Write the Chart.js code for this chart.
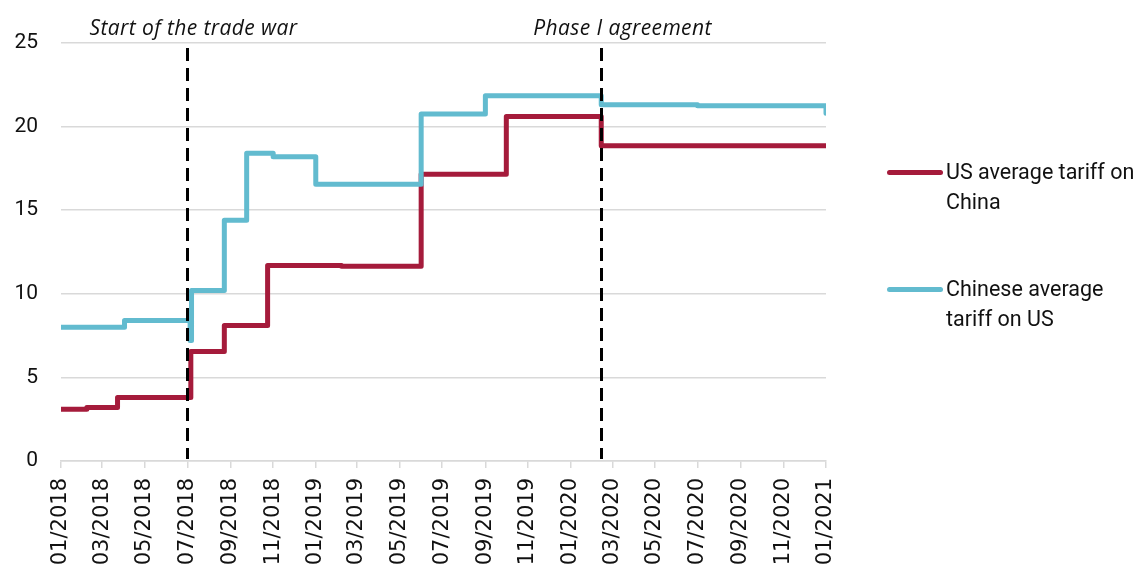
<!DOCTYPE html>
<html>
<head>
<meta charset="utf-8">
<script src="https://cdn.jsdelivr.net/npm/chart.js@4"></script>
<style>
    body { margin: 0; overflow: hidden; background: #fff; }
    #wrap { position: relative; width: 1143px; height: 565px; overflow: hidden; }
    canvas { position: absolute; left: 0; top: 0; }
    .legend-item { position: absolute; left: 887px; font-family: Roboto, sans-serif; font-size: 21.5px; line-height: 30px; color: #111; }
    .legend-item .swatch { position: absolute; left: 0; top: 13px; width: 56px; height: 5px; border-radius: 3px; }
    .legend-item .text { margin-left: 59px; }
</style>
</head>
<body>
<div id="wrap">
    <canvas id="tariffChart" width="1143" height="620"></canvas>
    <div class="legend-item" style="top:157px;"><div class="swatch" style="background:#A51B3B;"></div><div class="text">US average tariff on<br>China</div></div>
    <div class="legend-item" style="top:274px;"><div class="swatch" style="background:#62BBCF;"></div><div class="text">Chinese average<br>tariff on US</div></div>
</div>
<script>
// Tick labels on the time axis (every two months)
const tickLabels = ['01/2018', '03/2018', '05/2018', '07/2018', '09/2018', '11/2018',
    '01/2019', '03/2019', '05/2019', '07/2019', '09/2019', '11/2019',
    '01/2020', '03/2020', '05/2020', '07/2020', '09/2020', '11/2020', '01/2021'];
const yTicks = [0, 5, 10, 15, 20, 25];

// US average tariff on China (value holds from each date on)
const usDates = ['2018-01-01', '2018-02-07', '2018-03-23', '2018-07-06', '2018-08-23', '2018-10-24',
    '2019-02-07', '2019-06-01', '2019-10-01', '2020-02-14', '2021-01-01'];
const usValues = [3.1, 3.2, 3.8, 6.55, 8.1, 11.7, 11.65, 17.15, 20.6, 18.85, 18.85];

// Chinese average tariff on US
const cnDates = ['2018-01-01', '2018-04-02', '2018-07-05', '2018-07-07', '2018-08-23', '2018-09-24',
    '2018-11-01', '2019-01-01', '2019-06-01', '2019-09-01', '2020-02-14', '2020-07-01', '2021-01-01'];
const cnValues = [8.0, 8.4, 7.2, 10.2, 14.4, 18.4, 18.2, 16.55, 20.75, 21.85, 21.3, 21.25, 20.8];

// Event markers
const eventDates = ['2018-07-01', '2020-02-13'];
const eventLabels = ['Start of the trade war', 'Phase I agreement'];
const eventLabelShift = [6, 21];

const startDate = Date.UTC(2018, 0, 1);
function dayOf(iso) {
    const p = iso.split('-').map(Number);
    return (Date.UTC(p[0], p[1] - 1, p[2]) - startDate) / 86400000;
}
function dayOfTick(label) {
    const p = label.split('/').map(Number);
    return (Date.UTC(p[1], p[0] - 1, 1) - startDate) / 86400000;
}
const tickDays = tickLabels.map(dayOfTick);

function toPoints(dates, values) {
    return dates.map((d, i) => ({ x: dayOf(d), y: values[i] }));
}

// Dashed event lines and their italic labels
const eventPlugin = {
    id: 'events',
    afterDatasetsDraw(chart) {
        const ctx = chart.ctx;
        const xs = chart.scales.x;
        const area = chart.chartArea;
        ctx.save();
        eventDates.forEach((d, i) => {
            const px = Math.round(xs.getPixelForValue(dayOf(d))) + 0.5;
            ctx.beginPath();
            ctx.setLineDash([13, 7]);
            ctx.lineWidth = 3;
            ctx.strokeStyle = '#000';
            ctx.moveTo(px, area.top + 5);
            ctx.lineTo(px, area.bottom - 2);
            ctx.stroke();
            ctx.setLineDash([]);
            ctx.fillStyle = '#111';
            ctx.font = 'italic 21px "Open Sans", sans-serif';
            ctx.letterSpacing = '0.4px';
            ctx.textAlign = 'center';
            ctx.textBaseline = 'alphabetic';
            ctx.fillText(eventLabels[i], px + eventLabelShift[i], 35);
        });
        ctx.restore();
    }
};

const config = {
    type: 'line',
    data: {
        datasets: [{
            label: 'Chinese average tariff on US',
            data: toPoints(cnDates, cnValues),
            borderColor: '#62BBCF',
            borderWidth: 5,
            stepped: true,
            pointRadius: 0,
            borderJoinStyle: 'round',
            borderCapStyle: 'round'
        }, {
            label: 'US average tariff on China',
            data: toPoints(usDates, usValues),
            borderColor: '#A51B3B',
            borderWidth: 5,
            stepped: true,
            pointRadius: 0,
            borderJoinStyle: 'round',
            borderCapStyle: 'round'
        }]
    },
    options: {
        responsive: false,
        animation: false,
        layout: { padding: { top: 43, right: 317, left: 0, bottom: 0 } },
        plugins: {
            legend: { display: false },
            tooltip: { enabled: false }
        },
        scales: {
            x: {
                type: 'linear',
                min: tickDays[0],
                max: tickDays[tickDays.length - 1],
                afterBuildTicks: (scale) => {
                    scale.ticks = tickDays.map(v => ({ value: v }));
                },
                afterFit: (scale) => { scale.height = 159; },
                grid: {
                    drawOnChartArea: false,
                    drawTicks: true,
                    tickLength: 7,
                    color: '#d9d9d9',
                    lineWidth: 1.5
                },
                border: { display: true, color: '#d9d9d9', width: 1.5 },
                ticks: {
                    autoSkip: false,
                    minRotation: 90,
                    maxRotation: 90,
                    padding: 10,
                    color: '#111',
                    font: { family: '"DejaVu Sans", sans-serif', size: 21 },
                    callback: (value) => {
                        const i = tickDays.indexOf(value);
                        return i >= 0 ? tickLabels[i] : '';
                    }
                }
            },
            y: {
                min: yTicks[0],
                max: yTicks[yTicks.length - 1],
                afterBuildTicks: (scale) => {
                    scale.ticks = yTicks.map(v => ({ value: v }));
                },
                afterFit: (scale) => { scale.width = 61; },
                grid: {
                    color: '#d9d9d9',
                    lineWidth: 1.5,
                    drawTicks: false
                },
                border: { display: false },
                ticks: {
                    padding: 23,
                    color: '#111',
                    font: { family: 'Roboto, sans-serif', size: 21 }
                }
            }
        }
    },
    plugins: [eventPlugin]
};

new Chart(document.getElementById('tariffChart'), config);
</script>
</body>
</html>
